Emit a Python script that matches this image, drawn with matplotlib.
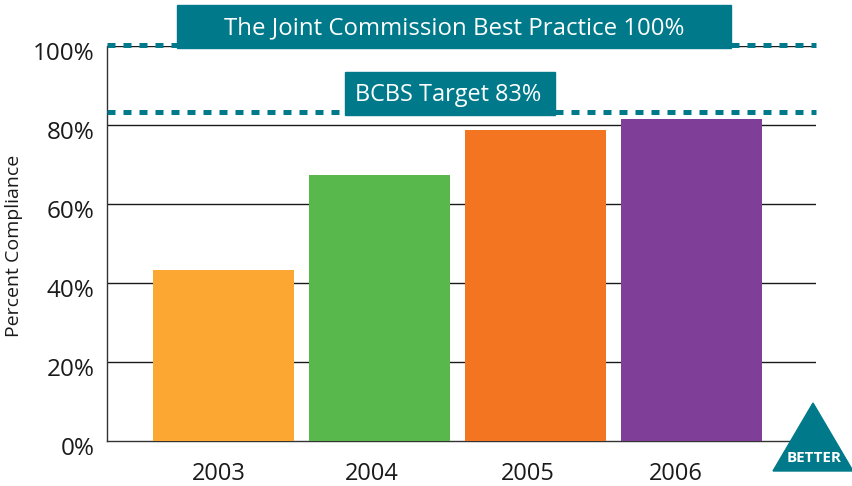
import matplotlib
matplotlib.use('Agg')
import matplotlib.pyplot as plt
from matplotlib.patches import Polygon, Rectangle
from matplotlib.transforms import ScaledTranslation

years = ['2003', '2004', '2005', '2006']
compliance = [43.3, 67.3, 78.75, 81.5]
bar_colors = ['#FBA732', '#58B84B', '#F47521', '#7F3F98']
ytick_vals = [0, 20, 40, 60, 80, 100]
ytick_labels = ['0%', '20%', '40%', '60%', '80%', '100%']
year_label_pos = [-0.03, 0.95, 1.95, 2.9]  # labels sit a bit off the bar centres
best_practice = 100.2
bcbs_target = 83.3
teal = '#007A8A'
ink = '#1a1a1a'

plt.rcParams['font.family'] = ['Open Sans', 'DejaVu Sans']

W, H = 853, 486
fig = plt.figure(figsize=(W/100, H/100), dpi=100)
# axes box in pixels: x 107-816, y from 0% at 441 to 100% at 46
ax = fig.add_axes([107/W, 1-441/H, 709/W, 395/H])

x_pos = [0, 1, 2, 3]
ax.bar(x_pos, compliance, width=0.904, color=bar_colors, zorder=3)
ax.set_xlim(-0.747, 3.798)
ax.set_ylim(0, 100)

ax.set_yticks(ytick_vals)
ax.set_yticklabels(ytick_labels, fontsize=17.5, color=ink)
ax.set_xticks(year_label_pos)
ax.set_xticklabels(years, fontsize=17, color=ink)
ax.tick_params(axis='y', length=0, pad=9)
ax.tick_params(axis='x', length=0, pad=15)
ax.set_ylabel('Percent Compliance', fontsize=14, color=ink, va='center')
ax.yaxis.set_label_coords(-0.131, 0.494)

# tick labels sit slightly low in the original
shift = ScaledTranslation(0, -3.3/72, fig.dpi_scale_trans)
for lab in ax.get_yticklabels():
    lab.set_transform(lab.get_transform() + shift)

for v in ytick_vals[1:]:
    ax.axhline(v, color=ink, lw=1, zorder=1)

for s in ['top', 'right']:
    ax.spines[s].set_visible(False)
for s in ['left', 'bottom']:
    ax.spines[s].set_color('#333333')
    ax.spines[s].set_linewidth(1)

for level in [best_practice, bcbs_target]:
    ax.axhline(level, color=teal, lw=3.6, ls=(0, (1.6, 1.6)), dash_capstyle='butt',
               zorder=4, clip_on=False)

# banners
fig.add_artist(Rectangle((177/W, 1-48/H), 554/W, 43/H, transform=fig.transFigure, color=teal, zorder=5))
fig.add_artist(Rectangle((345/W, 1-115/H), 210/W, 43/H, transform=fig.transFigure, color=teal, zorder=5))
fig.text(454/W, 1-28/H, 'The Joint Commission Best Practice 100%', color='white', fontsize=17.3,
         ha='center', va='center', zorder=6)
fig.text(355/W, 1-95/H, 'BCBS Target 83%', color='white', fontsize=16.9, ha='left', va='center', zorder=6)

# better triangle
fig.add_artist(Polygon([(773/W, 1-471/H), (853/W, 1-471/H), (813/W, 1-403/H)], closed=True,
                       transform=fig.transFigure, color=teal, zorder=5))
fig.text(814/W, 1-458/H, 'BETTER', color='white', fontsize=11, fontweight='bold',
         ha='center', va='center', zorder=6)

fig.savefig('out.png', dpi=100)
